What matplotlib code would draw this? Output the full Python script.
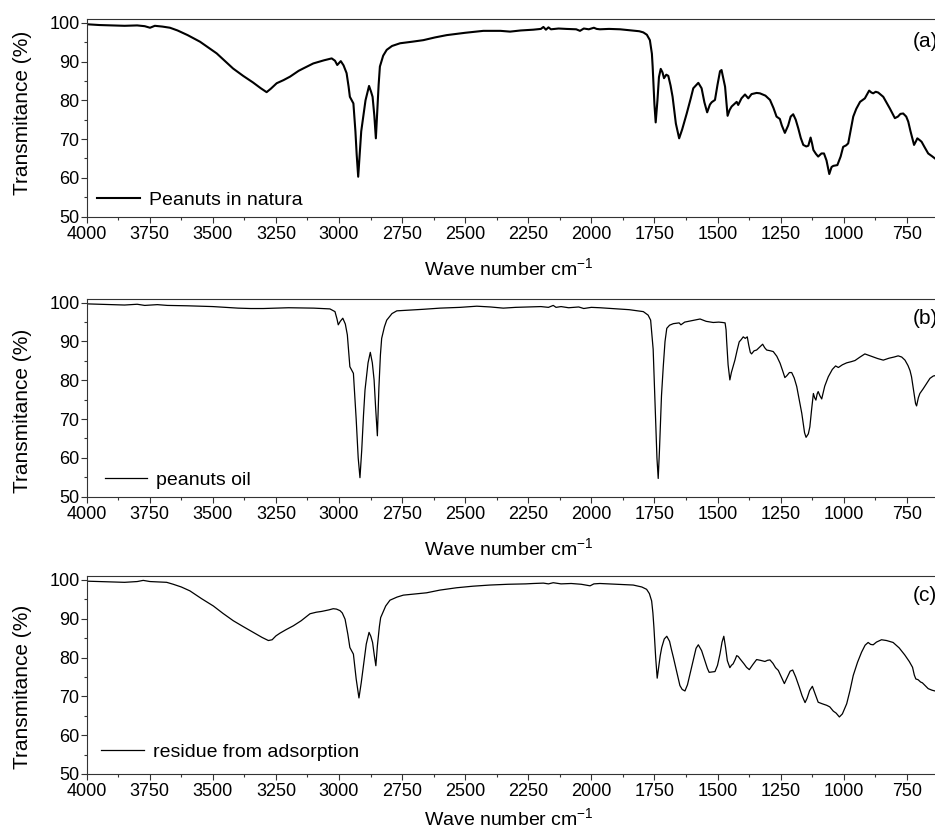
import matplotlib
matplotlib.use('Agg')
import matplotlib.pyplot as plt
from matplotlib.ticker import MultipleLocator

plt.rcParams['font.family'] = ['Liberation Sans', 'DejaVu Sans']
plt.rcParams['font.size'] = 13
plt.rcParams['mathtext.default'] = 'regular'

# FTIR spectra, wave number (cm-1) vs transmittance (%)
wn_a = [4000, 3950, 3900, 3850, 3800, 3770, 3749, 3730, 3700, 3670, 3640, 3600, 3551, 3485, 3420,
        3380, 3341, 3310, 3287, 3270, 3247, 3220, 3194, 3160, 3142, 3102, 3060, 3029, 3016, 3007,
        2993, 2982, 2970, 2962, 2957, 2943, 2935, 2930, 2924, 2918, 2912, 2904, 2895, 2881, 2873,
        2867, 2860, 2854, 2848, 2843, 2838, 2825, 2811, 2790, 2758, 2710, 2666, 2620, 2573, 2500,
        2428, 2360, 2322, 2280, 2230, 2200, 2190, 2180, 2170, 2160, 2130, 2100, 2060, 2045, 2030,
        2010, 1990, 1979, 1966, 1930, 1886, 1840, 1810, 1794, 1780, 1768, 1760, 1757, 1750, 1745,
        1738, 1732, 1725, 1718, 1712, 1703, 1695, 1686, 1678, 1665, 1652, 1640, 1622, 1606, 1596,
        1576, 1563, 1552, 1541, 1530, 1523, 1510, 1500, 1490, 1484, 1478, 1470, 1460, 1452, 1444,
        1431, 1424, 1418, 1405, 1391, 1378, 1365, 1345, 1332, 1310, 1292, 1278, 1266, 1253, 1245,
        1233, 1220, 1210, 1200, 1190, 1180, 1170, 1160, 1148, 1140, 1131, 1125, 1120, 1110, 1101,
        1088, 1078, 1068, 1057, 1048, 1041, 1025, 1012, 1002, 990, 982, 970, 962, 950, 935,
        916, 905, 899, 890, 883, 873, 863, 843, 830, 817, 797, 785, 775, 764, 752,
        744, 735, 721, 713, 708, 698, 691, 680, 665, 650, 638]
t_a = [99.6, 99.4, 99.3, 99.2, 99.3, 99.1, 98.7, 99.2, 99.0, 98.7, 98.0, 96.8, 95.1, 92.1, 88.2,
       86.3, 84.6, 83.1, 82.1, 83.0, 84.4, 85.2, 86.1, 87.6, 88.2, 89.5, 90.3, 90.8, 90.2, 89.1,
       90.1, 89.0, 87.0, 83.5, 80.9, 79.2, 72.0, 66.0, 60.3, 66.0, 72.0, 75.8, 80.0, 83.7, 82.2,
       80.9, 76.0, 70.2, 78.0, 84.0, 88.7, 91.5, 93.0, 94.0, 94.7, 95.1, 95.5, 96.2, 96.8, 97.4,
       97.9, 97.9, 97.7, 98.0, 98.2, 98.4, 98.9, 98.2, 98.8, 98.3, 98.5, 98.4, 98.3, 97.9, 98.5,
       98.3, 98.7, 98.4, 98.3, 98.4, 98.3, 98.0, 97.8, 97.5, 96.9, 95.5, 92.0, 88.7, 79.0, 74.3,
       80.0, 86.0, 88.1, 87.2, 85.7, 86.6, 86.3, 83.8, 80.9, 74.0, 70.2, 72.5, 76.6, 80.5, 83.1,
       84.5, 83.1, 79.5, 76.9, 78.9, 79.5, 80.1, 84.0, 87.5, 87.8, 86.0, 83.5, 76.0, 77.5, 78.4,
       79.2, 79.6, 78.8, 80.5, 81.5, 80.5, 81.6, 81.9, 81.8, 81.2, 80.1, 78.0, 75.8, 75.2, 73.5,
       71.6, 73.5, 75.8, 76.4, 75.0, 72.8, 70.3, 68.5, 68.1, 68.3, 70.4, 68.8, 67.2, 66.2, 65.5,
       66.3, 66.3, 64.5, 61.0, 62.8, 63.1, 63.3, 65.5, 68.0, 68.4, 68.9, 73.0, 75.8, 77.8, 79.6,
       80.5, 81.8, 82.5, 82.0, 81.8, 82.2, 82.0, 80.9, 79.4, 77.9, 75.4, 75.8, 76.5, 76.6, 75.8,
       74.5, 72.0, 68.5, 69.5, 70.2, 69.7, 69.3, 68.0, 66.3, 65.6, 65.0]

wn_b = [4000, 3950, 3900, 3850, 3800, 3770, 3720, 3680, 3600, 3500, 3450, 3400, 3350, 3300, 3200,
        3100, 3036, 3016, 3008, 3003, 2995, 2985, 2975, 2967, 2960, 2957, 2943, 2932, 2924, 2917,
        2910, 2903, 2897, 2885, 2876, 2868, 2861, 2855, 2848, 2842, 2836, 2831, 2820, 2811, 2790,
        2771, 2720, 2666, 2600, 2520, 2454, 2400, 2349, 2300, 2250, 2200, 2170, 2151, 2140, 2120,
        2090, 2050, 2030, 2000, 1966, 1900, 1850, 1794, 1775, 1765, 1755, 1747, 1740, 1735, 1730,
        1722, 1715, 1708, 1701, 1690, 1675, 1662, 1652, 1645, 1630, 1600, 1569, 1545, 1517, 1495,
        1480, 1470, 1466, 1464, 1458, 1451, 1445, 1431, 1422, 1414, 1406, 1398, 1390, 1382, 1376,
        1370, 1365, 1355, 1345, 1332, 1321, 1313, 1305, 1290, 1279, 1265, 1252, 1242, 1233, 1225,
        1215, 1206, 1196, 1186, 1176, 1166, 1155, 1149, 1140, 1134, 1127, 1120, 1115, 1110, 1105,
        1101, 1094, 1087, 1075, 1061, 1045, 1032, 1021, 1005, 988, 970, 955, 935, 916, 890,
        865, 843, 820, 800, 784, 770, 757, 745, 737, 731, 722, 715, 711, 704, 698,
        685, 671, 658, 645, 638]
t_b = [99.7, 99.6, 99.5, 99.4, 99.6, 99.3, 99.5, 99.3, 99.2, 99.0, 98.8, 98.6, 98.5, 98.5, 98.7,
       98.6, 98.4, 97.7, 95.8, 94.3, 95.2, 96.0, 94.5, 91.7, 86.0, 83.5, 81.8, 70.0, 60.0, 54.9,
       62.0, 71.0, 77.5, 84.5, 87.2, 84.5, 80.1, 73.0, 65.7, 78.0, 86.5, 90.8, 93.8, 95.5, 97.2,
       97.9, 98.1, 98.3, 98.6, 98.8, 99.1, 98.9, 98.6, 98.8, 98.9, 99.0, 98.8, 99.3, 98.8, 99.0,
       98.7, 98.9, 98.5, 98.8, 98.7, 98.4, 98.2, 97.7, 96.8, 95.5, 88.0, 73.0, 60.0, 54.7, 62.0,
       76.0, 83.5, 90.0, 93.4, 94.2, 94.6, 94.7, 94.8, 94.3, 95.0, 95.4, 95.8, 95.2, 94.9, 95.0,
       94.9, 94.8, 93.0, 90.4, 84.0, 80.1, 82.0, 85.2, 87.8, 89.9, 90.5, 91.2, 90.8, 91.2, 89.0,
       87.2, 86.8, 87.6, 87.8, 88.6, 89.3, 88.4, 87.8, 87.6, 87.4, 86.2, 84.4, 82.5, 80.7, 81.2,
       82.0, 82.0, 80.6, 78.4, 75.0, 71.5, 66.5, 65.3, 66.2, 68.0, 72.5, 76.6, 75.5, 74.9, 76.5,
       77.1, 76.0, 75.2, 78.5, 80.9, 82.8, 83.7, 83.3, 84.0, 84.5, 84.8, 85.1, 86.0, 86.8, 86.2,
       85.6, 85.2, 85.7, 86.0, 86.3, 86.0, 85.2, 83.8, 82.5, 80.9, 77.0, 74.0, 73.4, 75.5, 76.6,
       77.8, 79.2, 80.5, 81.1, 81.2]

wn_c = [4000, 3950, 3900, 3850, 3800, 3776, 3749, 3715, 3683, 3657, 3625, 3591, 3545, 3498, 3460,
        3419, 3380, 3340, 3305, 3280, 3265, 3250, 3234, 3210, 3181, 3150, 3115, 3090, 3069, 3040,
        3023, 3010, 2996, 2987, 2976, 2965, 2957, 2943, 2932, 2921, 2912, 2904, 2892, 2881, 2874,
        2867, 2860, 2854, 2848, 2840, 2835, 2815, 2798, 2770, 2745, 2700, 2653, 2600, 2534, 2470,
        2402, 2330, 2260, 2230, 2190, 2170, 2151, 2120, 2080, 2040, 2005, 1990, 1966, 1900, 1834,
        1800, 1781, 1770, 1761, 1756, 1752, 1745, 1739, 1733, 1727, 1721, 1711, 1701, 1690, 1683,
        1675, 1662, 1649, 1640, 1629, 1619, 1609, 1595, 1585, 1576, 1563, 1550, 1540, 1533, 1520,
        1510, 1500, 1490, 1482, 1475, 1468, 1461, 1451, 1445, 1438, 1430, 1424, 1418, 1411, 1395,
        1385, 1374, 1360, 1345, 1330, 1312, 1302, 1292, 1280, 1270, 1259, 1247, 1235, 1224, 1212,
        1202, 1190, 1176, 1165, 1153, 1145, 1135, 1124, 1112, 1101, 1085, 1067, 1055, 1041, 1030,
        1017, 1005, 988, 975, 962, 945, 929, 915, 903, 893, 883, 870, 850, 830, 804,
        780, 758, 740, 727, 720, 714, 705, 695, 688, 677, 665, 650, 638]
t_c = [99.7, 99.6, 99.5, 99.4, 99.6, 99.9, 99.6, 99.5, 99.4, 98.9, 98.2, 97.2, 95.2, 93.3, 91.4,
       89.5, 88.0, 86.5, 85.2, 84.4, 84.6, 85.6, 86.3, 87.2, 88.2, 89.5, 91.3, 91.7, 91.9, 92.3,
       92.6, 92.5, 92.1, 91.5, 89.9, 86.0, 82.6, 80.9, 74.5, 69.6, 73.5, 77.5, 83.5, 86.5, 85.5,
       83.9, 80.5, 77.9, 83.0, 88.0, 90.3, 93.3, 94.8, 95.6, 96.1, 96.4, 96.7, 97.4, 98.0, 98.4,
       98.7, 98.9, 99.0, 99.1, 99.2, 99.0, 99.3, 99.0, 99.1, 98.9, 98.5, 99.0, 99.1, 98.9, 98.7,
       98.2, 97.6, 96.5, 94.6, 91.5, 87.8, 80.0, 74.7, 77.5, 80.5, 82.6, 84.8, 85.5, 84.2, 82.2,
       80.1, 76.5, 72.8, 71.8, 71.4, 73.0, 75.8, 79.8, 82.4, 83.3, 81.8, 79.2, 77.2, 76.2, 76.3,
       76.4, 78.0, 81.0, 84.0, 85.5, 82.6, 79.2, 77.4, 78.0, 78.4, 79.5, 80.5, 80.3, 79.7, 78.4,
       77.5, 76.9, 78.2, 79.5, 79.3, 79.0, 79.3, 79.4, 78.5, 77.4, 76.7, 75.0, 73.3, 74.8, 76.5,
       76.8, 75.0, 72.4, 70.2, 68.4, 69.5, 71.5, 72.6, 70.5, 68.5, 68.1, 67.7, 67.3, 66.2, 65.7,
       64.7, 65.5, 68.1, 71.5, 75.4, 78.8, 81.4, 83.2, 83.9, 83.4, 83.3, 84.0, 84.6, 84.4, 83.9,
       82.5, 80.7, 79.0, 77.5, 75.5, 74.5, 74.3, 73.7, 73.5, 72.8, 72.0, 71.6, 71.4]

labels = ['Peanuts in natura', 'peanuts oil', 'residue from adsorption']
tags = ['(a)', '(b)', '(c)']

W, H = 935, 836
fig = plt.figure(figsize=(W / 100, H / 100), dpi=100)

# pixel layout: y of each 50 % line, axis-label centres, legend anchors, tag heights
bottoms = [216.7, 496.7, 774.0]
widths = [1.5, 0.9, 0.9]
ylab_y = [113, 411, 687]
xlab_y = [268, 548, 818]
leg_xy = [(0.003, 0.0), (0.012, 0.0), (0.008, 0.025)]
tag_y = [95.1, 96.0, 95.9]

series = [(wn_a, t_a), (wn_b, t_b), (wn_c, t_c)]
left = 86.7
ph = 51 * 3.88
frame = '#333333'

for i, (wn, t) in enumerate(series):
    ax = fig.add_axes([left / W, 1 - bottoms[i] / H, (W - left) / W, ph / H])
    ax.plot(wn, t, color='black', lw=widths[i], label=labels[i], solid_joinstyle='round')
    ax.set_xlim(4000, 638)
    ax.set_ylim(50, 101)
    ax.xaxis.set_major_locator(MultipleLocator(250))
    ax.xaxis.set_minor_locator(MultipleLocator(125))
    ax.yaxis.set_major_locator(MultipleLocator(10))
    ax.yaxis.set_minor_locator(MultipleLocator(5))
    ax.tick_params(which='both', direction='out', top=False, right=False, width=0.8, color=frame)
    ax.tick_params(which='major', length=4.2, labelsize=13)
    ax.tick_params(axis='x', which='major', pad=2.5)
    ax.tick_params(axis='y', which='major', pad=1)
    ax.tick_params(which='minor', length=2.4)
    ax.spines['right'].set_visible(False)
    for s in ['left', 'bottom', 'top']:
        ax.spines[s].set_linewidth(0.8)
        ax.spines[s].set_color(frame)
    ax.legend(loc='lower left', bbox_to_anchor=leg_xy[i], frameon=False, fontsize=14,
              handlelength=2.2, handletextpad=0.45, borderaxespad=0, borderpad=0.4)
    ax.text(725, tag_y[i], tags[i], fontsize=15, ha='left', va='center')
    fig.text(23 / W, 1 - ylab_y[i] / H, 'Transmitance (%)', rotation=90,
             ha='center', va='center', fontsize=15)
    fig.text(508.5 / W, 1 - xlab_y[i] / H, r'Wave number cm$^{-1}$',
             ha='center', va='center', fontsize=14)

fig.savefig('out.png', dpi=100)
